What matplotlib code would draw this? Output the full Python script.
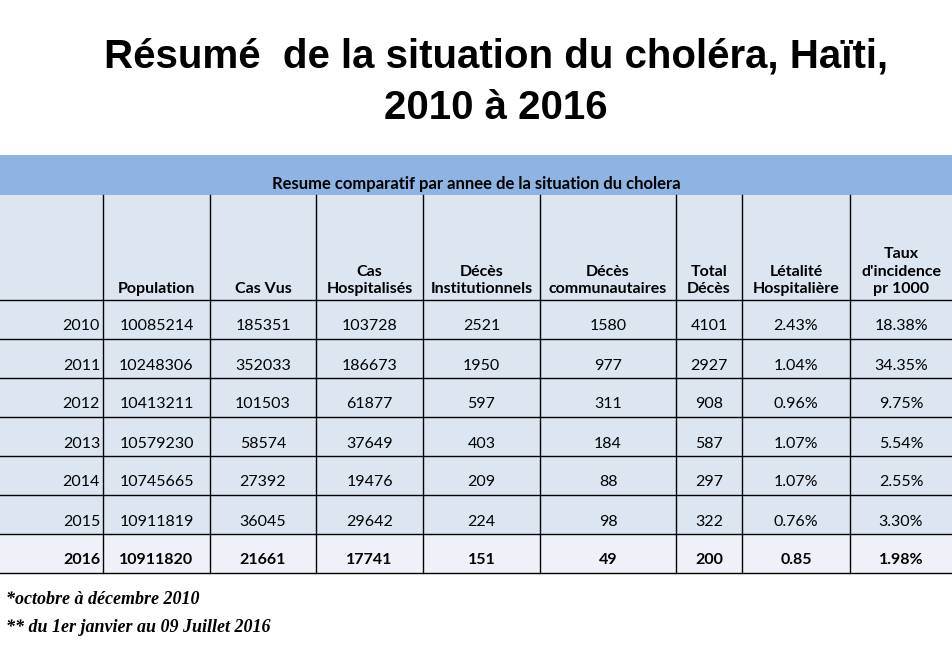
import matplotlib.pyplot as plt
from matplotlib.patches import Rectangle

title = "Résumé  de la situation du choléra, Haïti,\n2010 à 2016"
subtitle = "Resume comparatif par annee de la situation du cholera"
headers = ["", "Population", "Cas Vus", "Cas\nHospitalisés", "Décès\nInstitutionnels",
           "Décès\ncommunautaires", "Total\nDécès", "Létalité\nHospitalière",
           "Taux\nd'incidence\npr 1000"]
years = ["2010", "2011", "2012", "2013", "2014", "2015", "2016"]
population = ["10085214", "10248306", "10413211", "10579230", "10745665", "10911819", "10911820"]
cas_vus = ["185351", "352033", "101503", "58574", "27392", "36045", "21661"]
cas_hosp = ["103728", "186673", "61877", "37649", "19476", "29642", "17741"]
deces_inst = ["2521", "1950", "597", "403", "209", "224", "151"]
deces_comm = ["1580", "977", "311", "184", "88", "98", "49"]
total_deces = ["4101", "2927", "908", "587", "297", "322", "200"]
letalite = ["2.43%", "1.04%", "0.96%", "1.07%", "1.07%", "0.76%", "0.85"]
incidence = ["18.38%", "34.35%", "9.75%", "5.54%", "2.55%", "3.30%", "1.98%"]
notes = ["*octobre à décembre 2010", "** du 1er janvier au 09 Juillet 2016"]

columns = [years, population, cas_vus, cas_hosp, deces_inst, deces_comm,
           total_deces, letalite, incidence]
xb = [0, 103, 210, 316, 423, 540, 676, 742, 850, 952]
W, H = 952, 647
fig = plt.figure(figsize=(W / 100, H / 100), dpi=100)
ax = fig.add_axes([0, 0, 1, 1])
ax.set_xlim(0, W)
ax.set_ylim(H, 0)
ax.axis("off")

ax.text(496, 82, title, ha="center", va="center", fontsize=29, fontweight="bold",
        family="Liberation Sans", linespacing=1.45)

ax.add_patch(Rectangle((0, 155), W, 40, color="#8DB4E2", lw=0))
ax.text(476, 184, subtitle, ha="center", va="center", fontsize=12, fontweight="bold",
        family="Lato")

top, hh, rh = 195, 105, 39
ax.add_patch(Rectangle((0, top), W, hh + rh * len(years), color="#DCE6F1", lw=0))
ax.add_patch(Rectangle((0, top + hh + rh * 6), W, rh, color="#EEF2F8", lw=0))
for x in xb[1:-1]:
    ax.plot([x, x], [top, top + hh + rh * 7], color="black", lw=1)
for i in range(8):
    y = top + hh + rh * i
    ax.plot([0, W], [y, y], color="black", lw=1)

for j, h in enumerate(headers):
    ax.text((xb[j] + xb[j + 1]) / 2, top + hh - 4, h, ha="center", va="bottom",
            fontsize=11.5, fontweight="bold", family="Lato", linespacing=1.3)

for j, col in enumerate(columns):
    for i, v in enumerate(col):
        y = top + hh + rh * i + rh / 2 + 7
        bold = i == len(years) - 1
        if j == 0:
            x, ha = xb[1] - 3, "right"
        else:
            x, ha = (xb[j] + xb[j + 1]) / 2, "center"
        ax.text(x, y, v, ha=ha, va="center", fontsize=11.5,
                fontweight="bold" if bold else "normal", family="Lato")

for k, n in enumerate(notes):
    ax.text(6, 599 + 28 * k, n, ha="left", va="center", fontsize=13, fontweight="bold",
            style="italic", family="Liberation Serif")

fig.savefig("out.png", dpi=100)
